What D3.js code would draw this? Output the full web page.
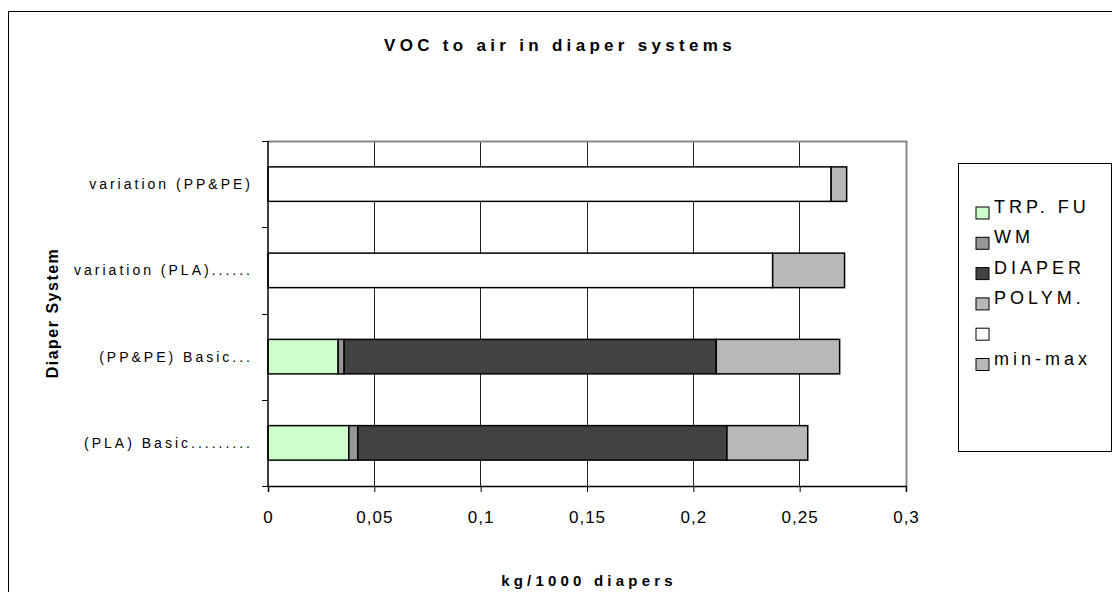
<!DOCTYPE html>
<html>
<head>
<meta charset="utf-8">
<script src="https://cdn.jsdelivr.net/npm/d3@7"></script>
<style>
  body { margin: 0; background: #fff; }
  svg { display: block; font-family: "Liberation Sans", Arial, sans-serif; }
</style>
</head>
<body>
<svg width="1112" height="592"></svg>
<script>
// categories, top to bottom as drawn
const categories = ["variation (PP&PE)", "variation (PLA)......", "(PP&PE) Basic...", "(PLA) Basic........."];
const seriesNames = ["TRP. FU", "WM", "DIAPER", "POLYM.", "", "min-max"];
const trpFu = [0, 0, 0.033, 0.038];
const wm = [0, 0, 0.0028, 0.0042];
const diaper = [0, 0, 0.175, 0.1736];
const polym = [0, 0, 0.058, 0.038];
const blank = [0.2648, 0.2373, 0, 0];
const minMax = [0.0073, 0.0338, 0, 0];
const xTicks = [0, 0.05, 0.1, 0.15, 0.2, 0.25, 0.3];
const colors = ["#ccffcc", "#969696", "#424242", "#b8b8b8", "#ffffff", "#b8b8b8"];

const svg = d3.select("svg");
const margin = { left: 268, right: 206, top: 141, bottom: 106 };
const width = 1112 - margin.left - margin.right;
const height = 592 - margin.top - margin.bottom;

// outer frame
svg.append("rect")
  .attr("x", 8.5).attr("y", 11.5)
  .attr("width", 1120).attr("height", 600)
  .attr("fill", "none").attr("stroke", "#000").attr("stroke-width", 1);

const table = categories.map((c, i) => ({
  cat: c,
  "TRP. FU": trpFu[i], "WM": wm[i], "DIAPER": diaper[i],
  "POLYM.": polym[i], "": blank[i], "min-max": minMax[i]
}));
const stacked = d3.stack().keys(seriesNames)(table);

const x = d3.scaleLinear().domain([0, 0.3]).range([0, width]);
const y = d3.scaleBand().domain(categories).range([0, height])
  .paddingInner(0.6).paddingOuter(0.3);

const g = svg.append("g").attr("transform", `translate(${margin.left},${margin.top})`);

// grid
g.selectAll(".grid").data(xTicks.slice(1, -1)).enter().append("line")
  .attr("x1", d => x(d)).attr("x2", d => x(d))
  .attr("y1", 0).attr("y2", height)
  .attr("stroke", "#222").attr("stroke-width", 1)
  .attr("shape-rendering", "crispEdges");

// plot border top + right
g.append("path")
  .attr("d", `M0,0.5H${width + 0.5}V${height}`)
  .attr("fill", "none").attr("stroke", "#888").attr("stroke-width", 2);

// bars
g.selectAll(".series").data(stacked).enter().append("g")
  .attr("fill", (d, i) => colors[i])
  .selectAll("rect").data(d => d.filter(p => p[1] - p[0] > 0)).enter().append("rect")
  .attr("x", d => x(d[0]))
  .attr("width", d => x(d[1]) - x(d[0]))
  .attr("y", d => y(d.data.cat))
  .attr("height", y.bandwidth())
  .attr("stroke", "#000").attr("stroke-width", 1.5);

// x axis
const xAxis = g.append("g").attr("transform", `translate(0,${height})`)
  .call(d3.axisBottom(x).tickValues(xTicks).tickSize(6)
    .tickFormat(d => String(d).replace(".", ",")));
xAxis.select(".domain").attr("stroke", "#000").attr("stroke-width", 1.5);
xAxis.selectAll(".tick line").attr("stroke", "#000");
xAxis.selectAll("text")
  .attr("y", 25).attr("font-size", 17).attr("letter-spacing", 1)
  .attr("font-family", "Liberation Sans, Arial, sans-serif").attr("fill", "#000");

// y axis: boundary ticks
const bounds = d3.range(categories.length + 1).map(i => i * height / categories.length);
g.append("line").attr("x1", 0).attr("x2", 0).attr("y1", 0).attr("y2", height)
  .attr("stroke", "#000").attr("stroke-width", 1.5);
g.selectAll(".ytick").data(bounds).enter().append("line")
  .attr("x1", -6).attr("x2", 0)
  .attr("y1", d => Math.round(d) + 0.5).attr("y2", d => Math.round(d) + 0.5)
  .attr("stroke", "#000");
g.selectAll(".ylab").data(categories).enter().append("text")
  .attr("x", -15).attr("y", d => y(d) + y.bandwidth() / 2)
  .attr("dy", "0.35em").attr("text-anchor", "end")
  .attr("font-size", 14).attr("letter-spacing", 3)
  .text(d => d);

// titles
svg.append("text").attr("x", 560).attr("y", 51).attr("text-anchor", "middle")
  .attr("font-size", 17).attr("font-weight", "bold").attr("letter-spacing", 4.3)
  .text("VOC to air in diaper systems");
svg.append("text").attr("x", 589).attr("y", 586).attr("text-anchor", "middle")
  .attr("font-size", 15).attr("font-weight", "bold").attr("letter-spacing", 4.2)
  .text("kg/1000 diapers");
svg.append("text").attr("transform", "translate(58,313) rotate(-90)")
  .attr("text-anchor", "middle").attr("font-size", 16).attr("font-weight", "bold")
  .attr("letter-spacing", 1.5)
  .text("Diaper System");

// legend
const lg = svg.append("g").attr("transform", "translate(958,163)");
lg.append("rect").attr("x", 0.5).attr("y", 0.5).attr("width", 153).attr("height", 288)
  .attr("fill", "#fff").attr("stroke", "#000");
const items = lg.selectAll(".item").data(seriesNames).enter().append("g")
  .attr("transform", (d, i) => `translate(18,${50 + i * 30.3})`);
items.append("rect").attr("x", 0).attr("y", -6).attr("width", 13).attr("height", 12)
  .attr("fill", (d, i) => colors[i]).attr("stroke", "#000").attr("stroke-width", 1);
items.append("text").attr("x", 18).attr("y", 0)
  .attr("font-size", 18).attr("letter-spacing", 4)
  .text(d => d);
</script>
</body>
</html>
